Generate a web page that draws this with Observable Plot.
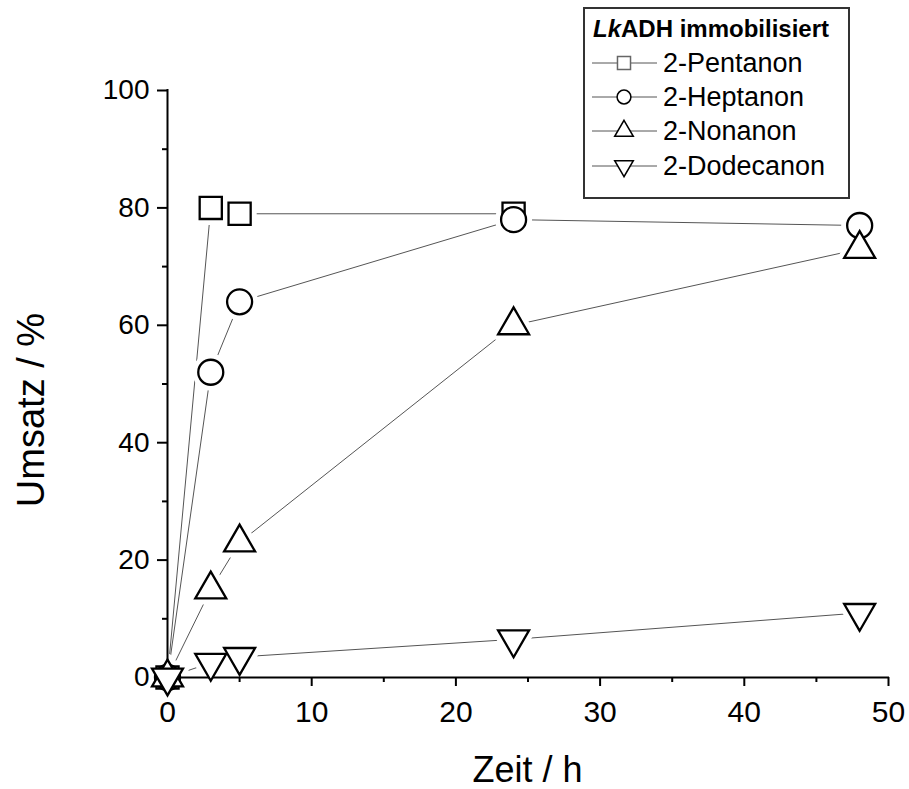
<!DOCTYPE html>
<html><head><meta charset="utf-8">
<script src="https://cdn.jsdelivr.net/npm/d3@7"></script>
<script src="https://cdn.jsdelivr.net/npm/@observablehq/plot@0.6"></script>
<style>
body{margin:0;background:#fff;}
#wrap{position:relative;width:909px;height:789px;font-family:"Liberation Sans",Arial,sans-serif;}
#legend{position:absolute;left:583px;top:7px;}
</style></head><body><div id="wrap"></div>
<script>
const times = [0, 3, 5, 24, 48];
const seriesNames = ["2-Pentanon", "2-Heptanon", "2-Nonanon", "2-Dodecanon"];
const pentanon = [0, 80, 79, 79];
const heptanon = [0, 52, 64, 78, 77];
const nonanon = [0, 15, 23, 60, 73];
const dodecanon = [0, 2.5, 3.5, 6.5, 11];
const xTicks = [0, 10, 20, 30, 40, 50];
const xMinorTicks = [5, 15, 25, 35, 45];
const yTicks = [0, 20, 40, 60, 80, 100];
const yMinorTicks = [10, 30, 50, 70, 90];
const legendTitleItalic = "Lk";
const legendTitleRest = "ADH immobilisiert";
const xLabel = "Zeit / h";
const yLabel = "Umsatz / %";

const seriesValues = [pentanon, heptanon, nonanon, dodecanon];
const rows = seriesValues.flatMap((vals, i) => vals.map((v, j) => ({series: seriesNames[i], t: times[j], v})));

const styles = [
  {symbol: "square", r: 12.5, rotate: 0, lsize: 170},
  {symbol: "circle", r: 12.5, rotate: 0, lsize: 150},
  {symbol: "triangle", r: 11.5, rotate: 0, lsize: 150},
  {symbol: "triangle", r: 11.5, rotate: 180, lsize: 150}
];

const halos = seriesNames.map((s, i) => Plot.dot(rows.filter(d => d.series === s), {
  x: "t", y: "v", symbol: styles[i].symbol, r: styles[i].r, rotate: styles[i].rotate,
  fill: "white", stroke: "white", strokeWidth: 12, strokeLinejoin: "round"
}));
const markers = seriesNames.map((s, i) => Plot.dot(rows.filter(d => d.series === s), {
  x: "t", y: "v", symbol: styles[i].symbol, r: styles[i].r, rotate: styles[i].rotate,
  fill: "white", stroke: "black", strokeWidth: 2.3
}));

const chart = Plot.plot({
  width: 909, height: 789,
  marginLeft: 167, marginRight: 21, marginTop: 90, marginBottom: 112,
  clip: false,
  style: {fontFamily: "'Liberation Sans', Arial, sans-serif", fontSize: "28px", color: "black", background: "white"},
  x: {domain: [0, 50]},
  y: {domain: [0, 100]},
  marks: [
    Plot.line(rows, {x: "t", y: "v", z: "series", stroke: "#555", strokeWidth: 1}),
    ...halos,
    Plot.ruleX([0], {stroke: "black", strokeWidth: 2, strokeLinecap: "square"}),
    Plot.ruleY([0], {stroke: "black", strokeWidth: 2, strokeLinecap: "square"}),
    Plot.axisX({ticks: xTicks, tickSize: 9, tickPadding: 14, strokeWidth: 2, label: null, fontSize: 30}),
    Plot.axisX({ticks: xMinorTicks, tickSize: 5, strokeWidth: 2, label: null, tickFormat: () => ""}),
    Plot.axisY({ticks: yTicks, tickSize: 10, tickPadding: 8, strokeWidth: 2, label: null, fontSize: 28}),
    Plot.axisY({ticks: yMinorTicks, tickSize: 5, strokeWidth: 2, label: null, tickFormat: () => ""}),
    ...markers
  ]
});
const wrap = document.getElementById("wrap");
wrap.appendChild(chart);

// Axis titles
const svg = d3.select(chart);
svg.append("text").attr("transform", "translate(44,410) rotate(-90)")
  .attr("text-anchor", "middle").attr("font-size", 38).attr("fill", "black").text(yLabel);
svg.append("text").attr("x", 527.5).attr("y", 782)
  .attr("text-anchor", "middle").attr("font-size", 36).attr("fill", "black").text(xLabel);

// Legend overlay
const lw = 267, lh = 192;
const leg = d3.select(wrap).append("svg").attr("id", "legend").attr("width", lw).attr("height", lh)
  .style("font-family", "'Liberation Sans', Arial, sans-serif");
leg.append("rect").attr("x", 1).attr("y", 1).attr("width", lw - 2).attr("height", lh - 2)
  .attr("fill", "white").attr("stroke", "#333").attr("stroke-width", 2);
const title = leg.append("text").attr("x", 10).attr("y", 30).attr("font-size", 24).attr("font-weight", "bold");
title.append("tspan").attr("font-style", "italic").text(legendTitleItalic);
title.append("tspan").text(legendTitleRest);
const rowY = [56, 90, 124, 159];
const symTypes = [d3.symbolSquare, d3.symbolCircle, d3.symbolTriangle, d3.symbolTriangle];
seriesNames.forEach((s, i) => {
  const g = leg.append("g").attr("transform", `translate(0,${rowY[i]})`);
  g.append("line").attr("x1", 9).attr("x2", 74).attr("y1", 0).attr("y2", 0).attr("stroke", "#555").attr("stroke-width", 1);
  g.append("path").attr("d", d3.symbol(symTypes[i], styles[i].lsize)())
    .attr("transform", `translate(41,0) rotate(${styles[i].rotate})`)
    .attr("fill", "white").attr("stroke", i === 0 ? "#666" : "black").attr("stroke-width", 1.5);
  g.append("text").attr("x", 80).attr("y", 9).attr("font-size", 27).text(s);
});
</script></body></html>
